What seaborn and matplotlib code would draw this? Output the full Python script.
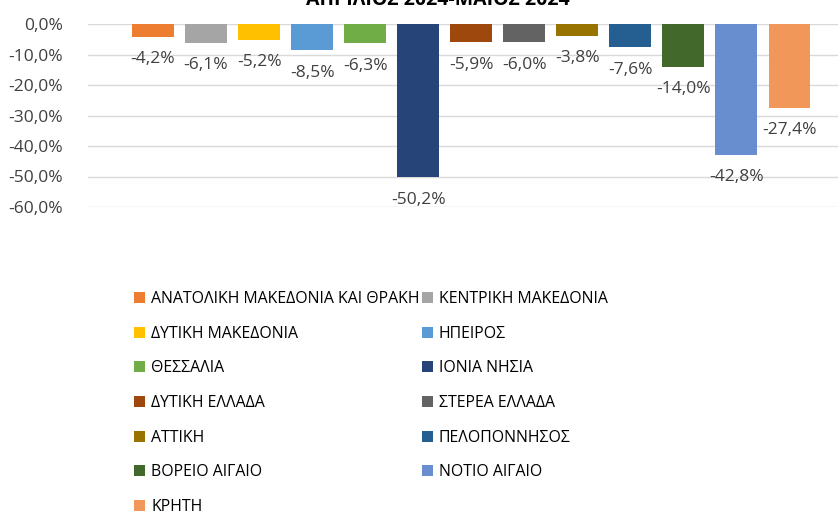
import matplotlib
matplotlib.use("Agg")
import matplotlib.pyplot as plt
import seaborn as sns
import pandas as pd

regions = [
    "ΑΝΑΤΟΛΙΚΗ ΜΑΚΕΔΟΝΙΑ ΚΑΙ ΘΡΑΚΗ", "ΚΕΝΤΡΙΚΗ ΜΑΚΕΔΟΝΙΑ", "ΔΥΤΙΚΗ ΜΑΚΕΔΟΝΙΑ",
    "ΗΠΕΙΡΟΣ", "ΘΕΣΣΑΛΙΑ", "ΙΟΝΙΑ ΝΗΣΙΑ", "ΔΥΤΙΚΗ ΕΛΛΑΔΑ", "ΣΤΕΡΕΑ ΕΛΛΑΔΑ",
    "ΑΤΤΙΚΗ", "ΠΕΛΟΠΟΝΝΗΣΟΣ", "ΒΟΡΕΙΟ ΑΙΓΑΙΟ", "ΝΟΤΙΟ ΑΙΓΑΙΟ", "ΚΡΗΤΗ",
]
change = [-4.2, -6.1, -5.2, -8.5, -6.3, -50.2, -5.9, -6.0, -3.8, -7.6, -14.0, -42.8, -27.4]
colors = [
    "#ED7D31", "#A5A5A5", "#FFC000", "#5B9BD5", "#70AD47", "#264478", "#9E480E",
    "#636363", "#997300", "#255E91", "#43682B", "#698ED0", "#F1975A",
]
yticks = [0, -10, -20, -30, -40, -50, -60]
title = "ΑΠΡΙΛΙΟΣ 2024-ΜΑΙΟΣ 2024"

df = pd.DataFrame({"region": regions, "change": change})

sns.set_style("white")
plt.rcParams["font.family"] = ["Open Sans", "DejaVu Sans"]
txt = "#404040"

fig = plt.figure(figsize=(8.38, 5.16), dpi=100)
ax = fig.add_axes([88 / 838, 1 - 207 / 516, 1 - 88 / 838, (207 - 24) / 516])

sns.barplot(data=df, x="region", y="change", hue="region", hue_order=regions,
            palette=colors, width=0.79, legend=False, ax=ax, saturation=1,
            linewidth=0)

for cont, v in zip(ax.containers, change):
    ax.bar_label(cont, labels=[f"{v:.1f}%".replace(".", ",")], padding=10.5,
                 fontsize=12.5, color=txt)

ax.set_ylim(-60, 0)
ax.set_xlim(-1.226, 12.915)
ax.set_yticks(yticks)
ax.set_yticklabels([f"{t:.1f}%".replace(".", ",") for t in yticks], fontsize=12.5, color=txt)
ax.set_xticks([])
ax.set_xlabel("")
ax.set_ylabel("")
ax.yaxis.grid(True, color="#D9D9D9", lw=1)
ax.set_axisbelow(True)
ax.tick_params(axis="y", length=0, pad=18)
for s in ax.spines.values():
    s.set_visible(False)

fig.text(438 / 838, 1 - 5 / 516, title, ha="center", va="baseline",
         fontsize=14, fontweight="bold", color="#000000")

# legend, row-major order like the original
handles = [c.patches[0] for c in ax.containers]
order = list(range(0, 13, 2)) + list(range(1, 13, 2))
leg = fig.legend([handles[i] for i in order], [regions[i] for i in order],
                 loc="upper left", bbox_to_anchor=(134 / 838, 1 - 291 / 516),
                 ncol=2, frameon=False, fontsize=11.4, handlelength=0.7,
                 handleheight=0.7, handletextpad=0.4, columnspacing=0.1,
                 labelspacing=1.18, borderpad=0, borderaxespad=0)
for t in leg.get_texts():
    t.set_color("#000000")

fig.savefig("out.png", dpi=100)
